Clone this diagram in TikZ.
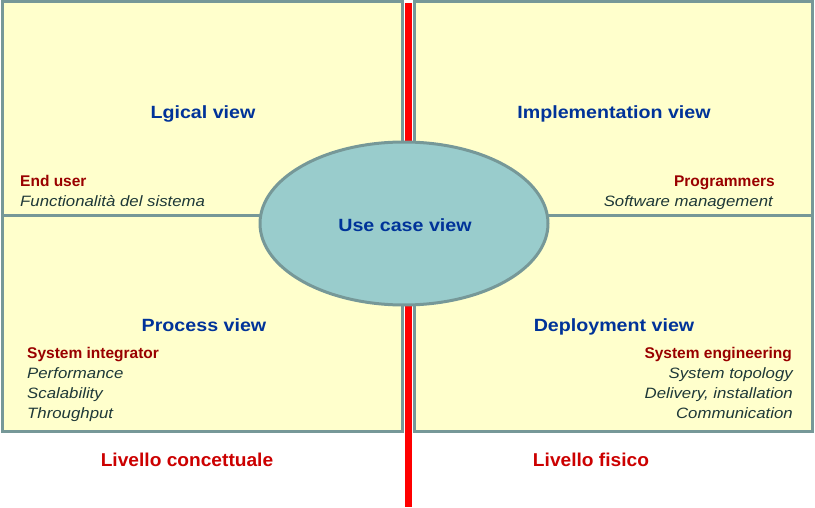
\documentclass[tikz,border=0pt]{standalone}
\usepackage{fontspec}
\setmainfont{Liberation Sans}
\newfontfamily\headfont[FakeStretch=1.11]{Liberation Sans}
\newfontfamily\itemfont[FakeStretch=1.12]{Liberation Sans}
\newfontfamily\levelfont[FakeStretch=1.03]{Liberation Sans}
\usetikzlibrary{shapes.geometric}
\definecolor{boxfill}{RGB}{255,255,204}
\definecolor{boxline}{RGB}{118,152,152}
\definecolor{ellfill}{RGB}{153,204,204}
\definecolor{headblue}{RGB}{0,51,153}
\definecolor{rolered}{RGB}{153,0,0}
\definecolor{itemgrey}{RGB}{30,56,56}
\definecolor{levelred}{RGB}{204,0,0}
\definecolor{axisred}{RGB}{255,0,0}
\begin{document}
\begin{tikzpicture}[x=1pt,y=-1pt,
  panel/.style={draw=boxline, line width=3pt, fill=boxfill, rectangle, inner sep=0pt},
  heading/.style={text=headblue, font=\headfont\fontsize{17.7}{21}\selectfont\bfseries, inner sep=0pt, anchor=base},
  role/.style={text=rolered, font=\fontsize{15.5}{18}\selectfont\bfseries, inner sep=0pt},
  item/.style={text=itemgrey, font=\itemfont\fontsize{15}{18}\selectfont\itshape, inner sep=0pt},
  level/.style={text=levelred, font=\levelfont\fontsize{18.6}{22}\selectfont\bfseries, inner sep=0pt, anchor=base},
  usecase/.style={ellipse, draw=boxline, line width=3pt, fill=ellfill, inner sep=0pt}]
\useasboundingbox (0,0) rectangle (815,508);
\fill[white] (0,0) rectangle (815,508);
% panels
\node[panel, minimum width=400pt, minimum height=214pt] (tl) at (202,109) {};
\node[panel, minimum width=398pt, minimum height=214pt] (tr) at (613,109) {};
\node[panel, minimum width=400pt, minimum height=215pt] (bl) at (202,323.5) {};
\node[panel, minimum width=398pt, minimum height=215pt] (br) at (613,323.5) {};
% red axis
\coordinate (rtop) at (408,3);
\coordinate (rbot) at (408,507);
\draw[axisred, line width=7pt] (rtop) -- (rbot);
% central ellipse
\node[usecase, minimum width=288pt, minimum height=163pt] (uc) at (404,223.5) {};
\node[heading] (uct) at (405,232) {Use case view};
% headings
\node[heading] (lv) at (203,119) {Lgical view};
\node[heading] (iv) at (614,119) {Implementation view};
\node[heading] (pv) at (204,331.5) {Process view};
\node[heading] (dv) at (614,331) {Deployment view};
% top-left
\node[role, anchor=base west] (eu) at (20,187) {End user};
\node[item, anchor=base west] (fs) at (20,206.5) {Functionalità del sistema};
% top-right
\node[role, anchor=base east] (pg) at (775,187) {Programmers};
\node[item, anchor=base east] (sm) at (773,206.5) {Software management};
% bottom-left
\node[role, anchor=base west] (si) at (27,358.5) {System integrator};
\node[item, anchor=base west] (pf) at (27,378.5) {Performance};
\node[item, anchor=base west] (sc) at (27,398.5) {Scalability};
\node[item, anchor=base west] (th) at (27,418.5) {Throughput};
% bottom-right
\node[role, anchor=base east] (se) at (792,358.5) {System engineering};
\node[item, anchor=base east] (st) at (793,378.5) {System topology};
\node[item, anchor=base east] (di) at (793,398.5) {Delivery, installation};
\node[item, anchor=base east] (cm) at (793,418.5) {Communication};
% levels
\node[level] (lc) at (187,466) {Livello concettuale};
\node[level] (lf) at (591,466) {Livello fisico};
\end{tikzpicture}
\end{document}
